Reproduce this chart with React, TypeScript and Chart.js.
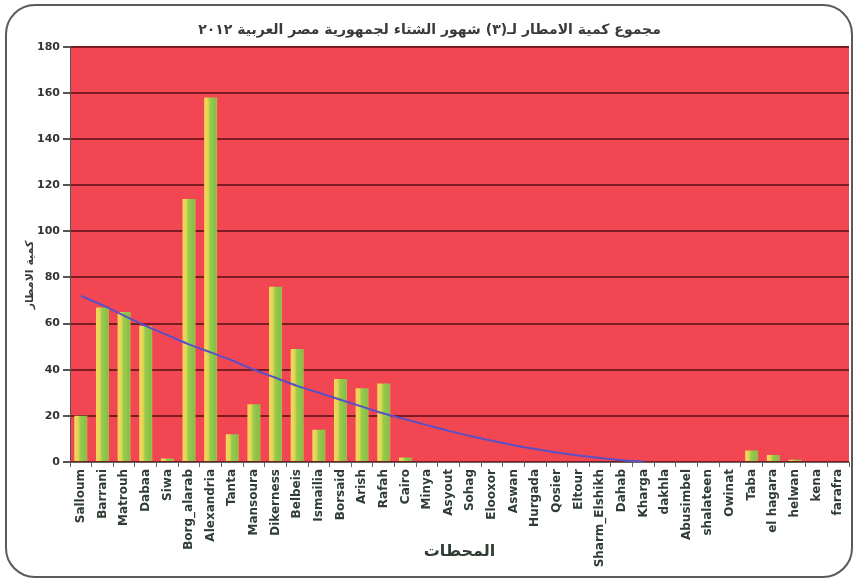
import React, { useEffect, useRef } from "react";
import { Chart, registerables } from "chart.js";

Chart.register(...registerables);

const TITLE = "مجموع كمية الامطار لـ(٣) شهور الشتاء لجمهورية مصر العربية ٢٠١٢";
const Y_TITLE = "كمية الامطار";
const X_TITLE = "المحطات";

const stations = [
  "Salloum", "Barrani", "Matrouh", "Dabaa", "Siwa", "Borg_alarab", "Alexandria", "Tanta",
  "Mansoura", "Dikerness", "Belbeis", "Ismailia", "Borsaid", "Arish", "Rafah", "Cairo",
  "Minya", "Asyout", "Sohag", "Elooxor", "Aswan", "Hurgada", "Qosier", "Eltour",
  "Sharm_Elshikh", "Dahab", "Kharga", "dakhla", "Abusimbel", "shalateen", "Owinat", "Taba",
  "el hagara", "helwan", "kena", "farafra",
];

const rainfall = [
  20, 67, 65, 59, 1.5, 114, 158, 12,
  25, 76, 49, 14, 36, 32, 34, 2,
  0, 0, 0, 0, 0, 0, 0, 0,
  0, 0, 0, 0, 0, 0, 0, 5,
  3, 1, 0, 0,
];

const trend: (number | null)[] = [
  72, 68, 63.5, 59, 55, 51, 47.5, 44,
  40, 36.5, 33, 30, 27, 24, 21, 18.5,
  16, 13.5, 11.3, 9.2, 7.3, 5.6, 4.1, 2.8,
  1.7, 0.8, 0.2, null, null, null, null, null,
  null, null, null, null,
];

const yTicks = [0, 20, 40, 60, 80, 100, 120, 140, 160, 180];

const plotBg = {
  id: "plotBg",
  beforeDraw(chart: any) {
    const { ctx, chartArea } = chart;
    if (!chartArea) return;
    ctx.save();
    ctx.fillStyle = "#f24753";
    ctx.fillRect(chartArea.left, chartArea.top, chartArea.right - chartArea.left, chartArea.bottom - chartArea.top);
    ctx.restore();
  },
  afterDraw(chart: any) {
    const { ctx } = chart;
    ctx.save();
    ctx.translate(30, 275);
    ctx.rotate(-Math.PI / 2);
    ctx.font = "bold 11px 'DejaVu Sans'";
    ctx.fillStyle = "#3a3a3a";
    ctx.textAlign = "center";
    ctx.textBaseline = "middle";
    ctx.fillText(Y_TITLE, 0, 0);
    ctx.restore();
  },
};

export default function App() {
  const ref = useRef<HTMLCanvasElement | null>(null);

  useEffect(() => {
    if (!ref.current) return;
    const barColor = (c: any) => {
      const chart = c.chart;
      const xs = chart.scales && chart.scales.x;
      if (!xs || c.dataIndex === undefined || !chart.chartArea) return "#8cc84a";
      const x = xs.getPixelForValue(c.dataIndex);
      const w = 13;
      const g = chart.ctx.createLinearGradient(x - w / 2, 0, x + w / 2, 0);
      g.addColorStop(0, "#f7d65c");
      g.addColorStop(0.3, "#e2d552");
      g.addColorStop(0.45, "#9acb4c");
      g.addColorStop(0.88, "#84c04a");
      g.addColorStop(1, "#c0b444");
      return g;
    };

    const chart = new Chart(ref.current, {
      type: "bar",
      data: {
        labels: stations,
        datasets: [
          {
            type: "line",
            data: trend,
            borderColor: "#5b4fc4",
            borderWidth: 2,
            pointRadius: 0,
            cubicInterpolationMode: "monotone",
            fill: false,
            spanGaps: false,
            order: 0,
          } as any,
          {
            type: "bar",
            data: rainfall,
            backgroundColor: barColor,
            borderWidth: 0,
            categoryPercentage: 1,
            barPercentage: 0.6,
            order: 1,
          },
        ],
      },
      options: {
        animation: false,
        responsive: false,
        maintainAspectRatio: false,
        layout: { padding: { left: 10, right: 7, top: 0, bottom: 8 } },
        plugins: {
          legend: { display: false },
          tooltip: { enabled: false },
          title: {
            display: true,
            text: TITLE,
            color: "#3a3a3a",
            font: { family: "'DejaVu Sans'", size: 14, weight: "bold" },
            padding: { top: 22, bottom: 8 },
          },
        },
        scales: {
          x: {
            offset: true,
            grid: {
              display: true,
              drawOnChartArea: false,
              drawTicks: true,
              tickLength: 5,
              tickColor: "#666",
              offset: true,
            },
            border: { display: true, color: "#666", width: 1 },
            ticks: {
              autoSkip: false,
              minRotation: 90,
              maxRotation: 90,
              padding: 2,
              color: "#2f3d33",
              font: { family: "'DejaVu Sans'", size: 12, weight: "bold" },
            },
            title: {
              display: true,
              text: X_TITLE,
              color: "#2f3d33",
              font: { family: "'DejaVu Sans'", size: 16, weight: "bold" },
              padding: { top: 4, bottom: 10 },
            },
            afterFit: (s: any) => {
              s.height = 109;
            },
          },
          y: {
            min: 0,
            max: 180,
            afterBuildTicks: (s: any) => {
              s.ticks = yTicks.map((v) => ({ value: v }));
            },
            grid: {
              color: "#7d1b22",
              lineWidth: 2,
              tickColor: "#555",
              tickLength: 7,
            },
            border: { display: true, color: "#555", width: 1 },
            ticks: {
              padding: 3,
              color: "#333",
              font: { family: "'DejaVu Sans'", size: 11, weight: "bold" },
            },
            afterFit: (s: any) => {
              s.width = 60;
            },
          },
        },
      },
      plugins: [plotBg],
    });
    return () => chart.destroy();
  }, []);

  return (
    <div style={{ position: "absolute", left: 0, top: 0, width: 856, height: 579, background: "#fff" }}>
      <div
        style={{
          position: "absolute",
          left: 5,
          top: 4,
          width: 848,
          height: 574,
          boxSizing: "border-box",
          border: "2.5px solid #5a5a5a",
          borderRadius: 30,
        }}
      />
      <canvas ref={ref} width={856} height={579} style={{ position: "absolute", left: 0, top: 0, display: "block" }} />
    </div>
  );
}
